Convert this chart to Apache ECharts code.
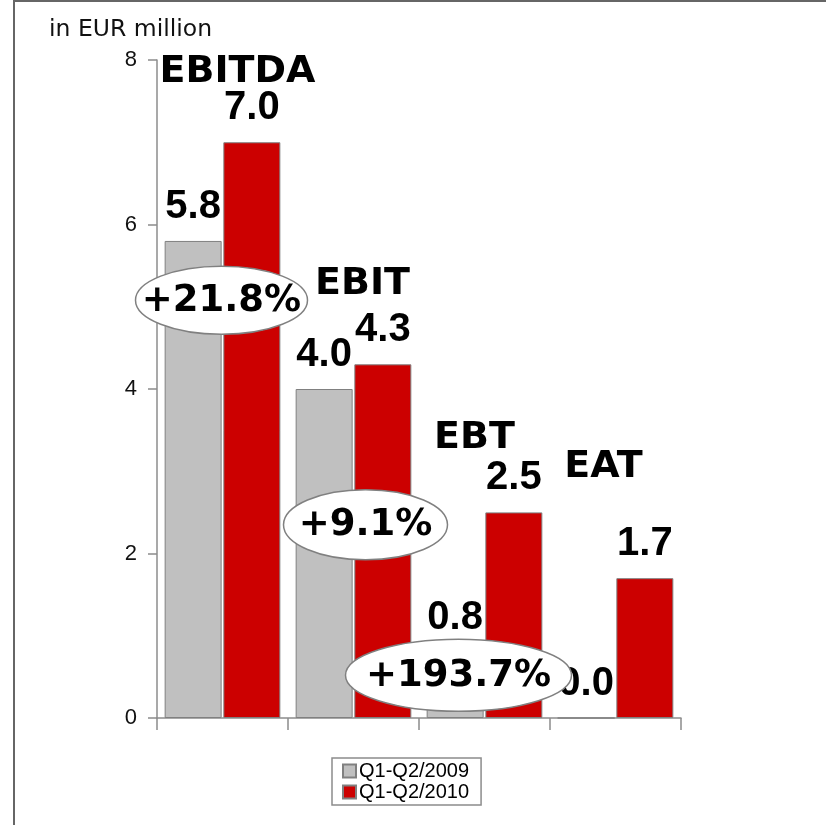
<!DOCTYPE html>
<html>
<head>
<meta charset="utf-8">
<script src="https://cdn.jsdelivr.net/npm/echarts@6/dist/echarts.min.js"></script>
<style>
html,body{margin:0;padding:0;background:#fff;}
#chart{width:826px;height:825px;}
</style>
</head>
<body>
<div id="chart"></div>
<script>
// ---- data ----
const categories = ['EBITDA', 'EBIT', 'EBT', 'EAT'];
const seriesNames = ['Q1-Q2/2009', 'Q1-Q2/2010'];
const values2009 = [5.8, 4.0, 0.8, 0.0];
const values2010 = [7.0, 4.3, 2.5, 1.7];
const changeLabels = ['+21.8%', '+9.1%', '+193.7%'];
const yTicks = [0, 2, 4, 6, 8];
const unitLabel = 'in EUR million';

// ---- annotation anchors (category + value, pixel nudge) ----
const titleAnchors = [
  { cat: 'EBITDA', v: 7.85, dx: 15 },
  { cat: 'EBIT', v: 5.28, dx: 9 },
  { cat: 'EBT', v: 3.4, dx: -10 },
  { cat: 'EAT', v: 3.05, dx: -12 }
];
const ellipseAnchors = [
  { cat: 'EBITDA', v: 5.08, dx: -1, rx: 86, ry: 34 },
  { cat: 'EBIT', v: 2.35, dx: 12, rx: 82, ry: 35 },
  { cat: 'EBT', v: 0.52, dx: -26, rx: 113, ry: 36 }
];

const chart = echarts.init(document.getElementById('chart'), null, { renderer: 'canvas' });

const valueLabel = {
  show: true,
  position: 'top',
  distance: 14,
  color: '#000',
  fontFamily: '"Liberation Sans", Arial, sans-serif',
  fontWeight: 'bold',
  fontSize: 40,
  formatter: p => p.value.toFixed(1)
};

const option = {
  backgroundColor: '#fff',
  animation: false,
  grid: { left: 157, right: 145, top: 60, bottom: 107, containLabel: false },
  legend: {
    orient: 'vertical',
    left: 332,
    top: 758,
    itemGap: 1,
    itemWidth: 13,
    itemHeight: 13,
    icon: 'rect',
    borderColor: '#8c8c8c',
    borderWidth: 1.5,
    padding: [3, 12, 3, 10],
    textStyle: { fontFamily: '"Liberation Sans", Arial, sans-serif', fontSize: 20, color: '#000', padding: [0, 0, 0, -2] },
    data: seriesNames
  },
  xAxis: {
    type: 'category',
    data: categories,
    boundaryGap: true,
    axisLine: { show: true, lineStyle: { color: '#8c8c8c', width: 1.5 } },
    axisTick: { show: true, length: 12, lineStyle: { color: '#8c8c8c', width: 1.5 } },
    axisLabel: { show: false },
    splitLine: { show: false }
  },
  yAxis: {
    type: 'value',
    min: 0,
    max: 8,
    interval: 2,
    axisLine: { show: true, lineStyle: { color: '#8c8c8c', width: 1.5 } },
    axisTick: { show: true, length: 9, lineStyle: { color: '#8c8c8c', width: 1.5 } },
    axisLabel: {
      margin: 20,
      color: '#111',
      fontFamily: '"Liberation Sans", Arial, sans-serif',
      fontSize: 22,
      formatter: v => (yTicks.indexOf(v) >= 0 ? String(v) : '')
    },
    splitLine: { show: false }
  },
  series: [
    {
      name: seriesNames[0],
      type: 'bar',
      data: values2009,
      barWidth: 57,
      barGap: '3%',
      itemStyle: { color: '#c0c0c0', borderColor: '#808080', borderWidth: 1 },
      label: valueLabel,
      z: 2
    },
    {
      name: seriesNames[1],
      type: 'bar',
      data: values2010,
      barWidth: 57,
      barGap: '3%',
      itemStyle: { color: '#cc0000', borderColor: '#808080', borderWidth: 1 },
      label: valueLabel,
      z: 2
    }
  ]
};

chart.setOption(option);

function px(cat, v) {
  return chart.convertToPixel({ xAxisIndex: 0, yAxisIndex: 0 }, [cat, v]);
}

const graphics = [];
// frame
graphics.push({
  type: 'rect', z: 0, silent: true,
  shape: { x: 14, y: 1, width: 900, height: 900 },
  style: { fill: 'none', stroke: '#666', lineWidth: 2 }
});
// unit label
graphics.push({
  type: 'text', z: 50,
  x: 49, y: 18,
  style: { text: unitLabel, fill: '#111', font: '23.5px "DejaVu Sans", Verdana, sans-serif', textVerticalAlign: 'top' }
});
// category titles
titleAnchors.forEach((a, i) => {
  const p = px(a.cat, a.v);
  graphics.push({
    type: 'text', z: 60,
    x: p[0] + a.dx, y: p[1],
    style: {
      text: categories[i], fill: '#000',
      font: 'bold 38px "DejaVu Sans", Verdana, sans-serif',
      textAlign: 'center', textVerticalAlign: 'middle'
    }
  });
});
// change ellipses
ellipseAnchors.forEach((a, i) => {
  const p = px(a.cat, a.v);
  graphics.push({
    type: 'ellipse', z: 100,
    shape: { cx: p[0] + a.dx, cy: p[1], rx: a.rx, ry: a.ry },
    style: { fill: '#fff', stroke: '#808080', lineWidth: 1.5 }
  });
  graphics.push({
    type: 'text', z: 101,
    x: p[0] + a.dx, y: p[1] + 1,
    style: {
      text: changeLabels[i], fill: '#000',
      font: 'bold 37px "DejaVu Sans", Verdana, sans-serif',
      textAlign: 'center', textVerticalAlign: 'middle'
    }
  });
});

chart.setOption({ graphic: { elements: graphics } });
</script>
</body>
</html>
